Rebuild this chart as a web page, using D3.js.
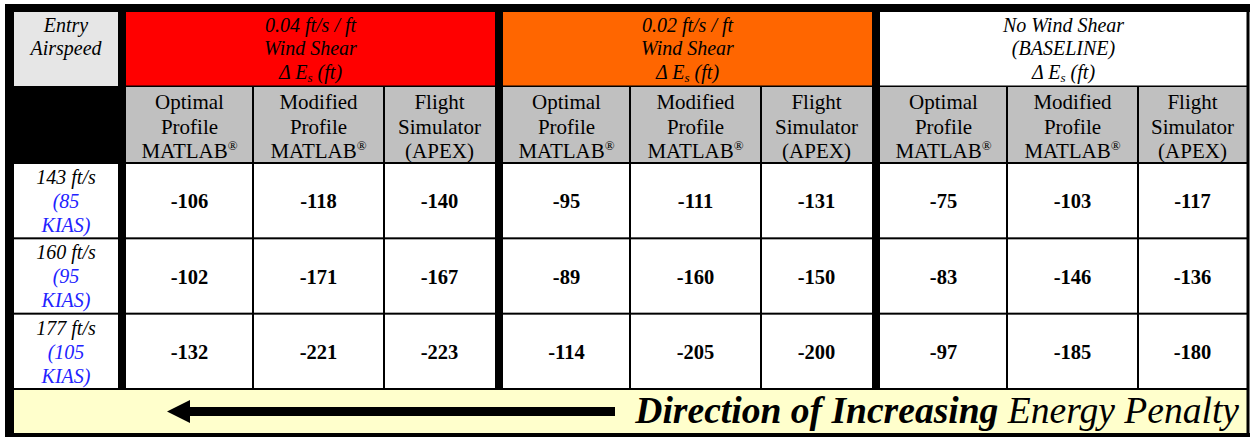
<!DOCTYPE html>
<html><head><meta charset="utf-8">
<script src="https://cdn.jsdelivr.net/npm/d3@7"></script>
<style>html,body{margin:0;padding:0;background:#fff;} svg{display:block;}</style>
</head><body>
<script>
// ---- data ----
const groupTitles = ["0.04 ft/s / ft", "0.02 ft/s / ft", "No Wind Shear"];
const groupSubtitles = ["Wind Shear", "Wind Shear", "(BASELINE)"];
const groupColors = ["#FF0000", "#FF6600", "#FFFFFF"];
const methodLines = [["Optimal", "Profile", "MATLAB"], ["Modified", "Profile", "MATLAB"], ["Flight", "Simulator", "(APEX)"]];
const methodReg = [true, true, false];
const airspeeds = ["143 ft/s", "160 ft/s", "177 ft/s"];
const kias = ["(85", "(95", "(105"];
const values04 = [[-106, -118, -140], [-102, -171, -167], [-132, -221, -223]];
const values02 = [[-95, -111, -131], [-89, -160, -150], [-114, -205, -200]];
const values00 = [[-75, -103, -117], [-83, -146, -136], [-97, -185, -180]];
const allValues = [values04, values02, values00];
const footerBold = "Direction of Increasing";
const footerRegular = "Energy Penalty";

// ---- layout ----
const W = 1250, H = 437;
const FONT = "'Liberation Serif', serif";
const svg = d3.select("body").append("svg").attr("width", W).attr("height", H);

const groupStarts = [126, 503, 880];
const groupEnds = [495, 872, 1247];
const subSplits = [0, 127, 258];
function colEdges(g) {
  const s = groupStarts[g], e = groupEnds[g];
  return [s, s + subSplits[1], s + subSplits[2], e];
}
const yRow = d3.scaleBand().domain(d3.range(airspeeds.length)).range([163, 389]);
const yTop = 12, yMid = 86, yHead = 163, yFoot = 389, yBottom = 433;

svg.append("rect").attr("x", 0).attr("y", 0).attr("width", W).attr("height", H).attr("fill", "#fff");

svg.append("rect").attr("x", 14).attr("y", yTop).attr("width", 104).attr("height", yMid - yTop).attr("fill", "#E6E6E6");
svg.append("rect").attr("x", 14).attr("y", yMid).attr("width", 104).attr("height", yHead - yMid).attr("fill", "#000");

groupTitles.forEach((t, g) => {
  svg.append("rect").attr("x", groupStarts[g]).attr("y", yTop).attr("width", groupEnds[g] - groupStarts[g])
    .attr("height", yMid - yTop).attr("fill", groupColors[g]);
  svg.append("rect").attr("x", groupStarts[g]).attr("y", yMid).attr("width", groupEnds[g] - groupStarts[g])
    .attr("height", yHead - yMid).attr("fill", "#C0C0C0");
});

svg.append("rect").attr("x", 14).attr("y", yFoot).attr("width", 1233).attr("height", yBottom - yFoot).attr("fill", "#FFFFCC");

// ---- lines ----
const L = svg.append("g");
function blk(x, y, w, h) { L.append("rect").attr("x", x).attr("y", y).attr("width", w).attr("height", h).attr("fill", "#000"); }
groupTitles.forEach((t, g) => {
  const e = colEdges(g);
  [e[1], e[2]].forEach(x => blk(x - 1, yMid, 2, yFoot - yMid));
});
blk(126, yMid - 0.5, 1121, 1.5);
blk(14, yHead - 1, 1233, 2);
yRow.domain().forEach(i => { blk(5, yRow(i) + yRow.bandwidth() - 1, 1242, 2); });
blk(118, yTop, 8, yFoot - yTop);
blk(495, yTop, 8, yFoot - yTop);
blk(872, yTop, 8, yFoot - yTop);
blk(5, 4, 1245, 8);
blk(5, 4, 9, 433);
blk(1246.5, 4, 3, 433);
blk(5, yBottom, 1245, 4);

// ---- text ----
const T = svg.append("g").attr("fill", "#000");
function txt(x, y, s, opt = {}) {
  return T.append("text").attr("x", x).attr("y", y).attr("text-anchor", opt.anchor || "middle")
    .style("font-family", FONT)
    .style("font-size", (opt.size || 20) + "px").style("font-style", opt.italic ? "italic" : "normal")
    .style("font-weight", opt.bold ? "bold" : "normal").attr("fill", opt.fill || "#000").text(s);
}
txt(66, 32, "Entry", { italic: true });
txt(66, 55, "Airspeed", { italic: true });

groupTitles.forEach((t, g) => {
  const cx = (groupStarts[g] + groupEnds[g]) / 2;
  txt(cx, 32, t, { italic: true });
  txt(cx, 55, groupSubtitles[g], { italic: true });
  const d = txt(cx, 79, "Δ E", { italic: true });
  d.append("tspan").style("font-size", "13px").attr("dy", 3).text("s");
  d.append("tspan").attr("dy", -3).text(" (ft)");
  const e = colEdges(g);
  methodLines.forEach((m, k) => {
    const mx = (e[k] + e[k + 1]) / 2;
    txt(mx, 109, m[0], { size: 21 });
    txt(mx, 134, m[1], { size: 21 });
    const last = txt(mx, 158, m[2], { size: 21 });
    if (methodReg[k]) {
      last.append("tspan").style("font-size", "13px").attr("dy", -8).text("®");
    }
  });
  allValues[g].forEach((row, r) => {
    row.forEach((v, k) => {
      const mx = (e[k] + e[k + 1]) / 2;
      txt(mx, yRow(r) + yRow.bandwidth() / 2 + 7.5, String(v), { bold: true, size: 20.5 });
    });
  });
});

airspeeds.forEach((a, r) => {
  const y0 = yRow(r);
  txt(66, y0 + 21, a, { italic: true });
  txt(66, y0 + 45, kias[r], { italic: true, fill: "#2222FF" });
  txt(66, y0 + 69, "KIAS)", { italic: true, fill: "#2222FF" });
});

svg.append("path")
  .attr("d", d3.line()([[167, 411.5], [190, 400], [190, 407], [615, 407], [615, 416], [190, 416], [190, 423]]) + "Z")
  .attr("fill", "#000");

const ft = T.append("text").attr("x", 1239).attr("y", 423).attr("text-anchor", "end")
  .style("font-family", FONT).style("font-size", "30px").style("font-style", "italic");
ft.append("tspan").style("font-weight", "bold").text(footerBold + " ");
ft.append("tspan").text(footerRegular);
const wlen = ft.node().getComputedTextLength();
ft.style("font-size", (30 * 604 / wlen) + "px");
</script>
</body></html>
